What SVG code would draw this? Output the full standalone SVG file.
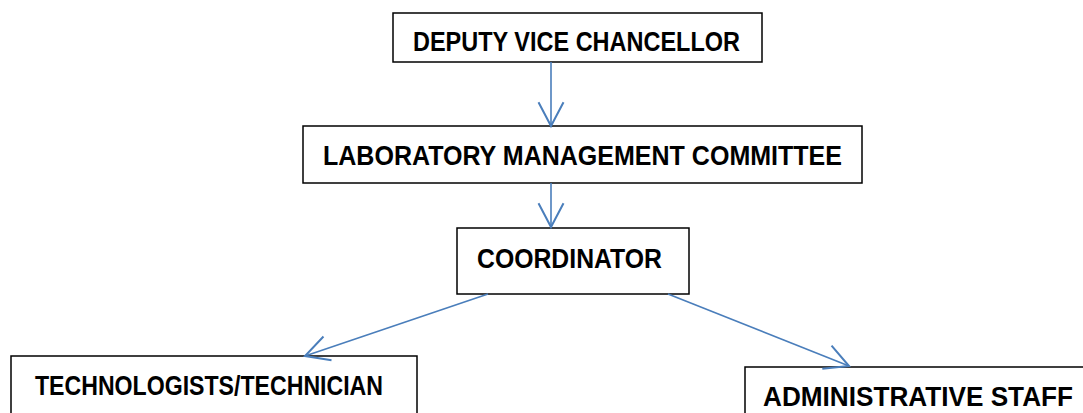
<svg xmlns="http://www.w3.org/2000/svg" width="1083" height="413" viewBox="0 0 1083 413">
<style>
.box{fill:#fff;stroke:#000;stroke-width:1.5}
.lbl{font-family:"Liberation Sans",Arial,sans-serif;font-weight:bold;font-size:27px;fill:#000}
.con{stroke:#4a7ebb;stroke-width:1.6;fill:none}
</style>
<defs>
<marker id="arr" markerUnits="userSpaceOnUse" markerWidth="30" markerHeight="30" viewBox="-22 -12 24 24" refX="0" refY="0" orient="auto">
<path d="M-19,-10 L0,0 L-19,10" fill="none" stroke="#4a7ebb" stroke-width="1.6"/>
</marker>
</defs>
<rect width="1083" height="413" fill="#fff"/>
<g id="dvc"><rect class="box" x="393" y="13" width="369" height="49"/><text class="lbl" x="413" y="51" textLength="327" lengthAdjust="spacingAndGlyphs">DEPUTY VICE CHANCELLOR</text></g>
<g id="lmc"><rect class="box" x="303" y="126" width="559" height="57"/><text class="lbl" x="323" y="165" textLength="519" lengthAdjust="spacingAndGlyphs">LABORATORY MANAGEMENT COMMITTEE</text></g>
<g id="coord"><rect class="box" x="457" y="228" width="232" height="66"/><text class="lbl" x="477" y="268" textLength="185" lengthAdjust="spacingAndGlyphs">COORDINATOR</text></g>
<g id="tech"><rect class="box" x="11" y="356" width="406" height="70"/><text class="lbl" x="35" y="395" textLength="348" lengthAdjust="spacingAndGlyphs">TECHNOLOGISTS/TECHNICIAN</text></g>
<g id="admin"><rect class="box" x="745" y="367" width="360" height="70"/><text class="lbl" x="763" y="406" textLength="310" lengthAdjust="spacingAndGlyphs">ADMINISTRATIVE STAFF</text></g>
<g id="connectors">
<line class="con" x1="551" y1="62" x2="551" y2="126" marker-end="url(#arr)"/>
<line class="con" x1="551" y1="183" x2="551" y2="227" marker-end="url(#arr)"/>
<line class="con" x1="488" y1="294" x2="305" y2="356" marker-end="url(#arr)"/>
<line class="con" x1="668" y1="294" x2="849" y2="366" marker-end="url(#arr)"/>
</g>
</svg>
